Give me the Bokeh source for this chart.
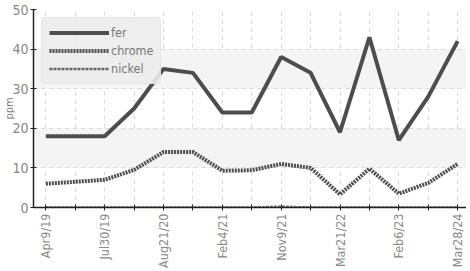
import math
from bokeh.plotting import figure
from bokeh.models import FixedTicker, Legend, LegendItem
from bokeh.embed import file_html
from bokeh.resources import INLINE

x_labels = ["Apr9/19", "", "Jul30/19", "", "Aug21/20", "", "Feb4/21", "",
            "Nov9/21", "", "Mar21/22", "", "Feb6/23", "", "Mar28/24"]
fer = [18, 18, 18, 25, 35, 34, 24, 24, 38, 34, 19, 43, 17, 28, 42]
chrome = [6, 6.5, 7, 9.5, 14, 14, 9.3, 9.4, 11, 10, 3.3, 9.8, 3.5, 6.2, 11]
nickel = [0, 0, 0, 0, 0, 0, 0, 0, 0.2, 0, 0, 0, 0, 0, 0]
xs = list(range(len(fer)))

FONT = "DejaVu Sans Condensed"

p = figure(width=466, height=270, output_backend="svg", toolbar_location=None,
           x_range=(-0.42, 14.3), y_range=(0, 50),
           min_border_left=0, min_border_right=0, min_border_top=9, min_border_bottom=2)
p.outline_line_color = None

r_fer = p.line(xs, fer, line_color="#4d4d4d", line_width=4)
r_chr = p.line(xs, chrome, line_color="#4d4d4d", line_width=4, line_dash="2 1")
r_ni = p.line(xs, nickel, line_color="#666666", line_width=2.5, line_dash="3 1")

p.xaxis.ticker = FixedTicker(ticks=xs)
p.xaxis.major_label_overrides = {i: s for i, s in enumerate(x_labels)}
p.xaxis.major_label_orientation = math.pi / 2
p.yaxis.ticker = FixedTicker(ticks=[0, 10, 20, 30, 40, 50])
p.yaxis.axis_label = "ppm"

for ax in (p.xaxis, p.yaxis):
    ax.axis_line_color = "#222222"
    ax.axis_line_width = 1.5
    ax.major_tick_line_color = "#222222"
    ax.minor_tick_line_color = None
    ax.major_label_text_color = "#888888"
    ax.major_label_text_font = FONT
    ax.major_label_text_font_size = "12.5px"
    ax.axis_label_text_color = "#777777"
    ax.axis_label_text_font = FONT
    ax.axis_label_text_font_size = "11px"
    ax.axis_label_text_font_style = "normal"
    ax.major_label_standoff = 3
p.yaxis.axis_label_standoff = -7
p.yaxis.major_label_standoff = 2
p.xaxis.major_tick_in = 3
p.xaxis.major_tick_out = 3
p.yaxis.major_tick_in = 3
p.yaxis.major_tick_out = 3
p.yaxis.major_label_text_font_size = "14px"

p.xgrid.grid_line_color = "#d8d8d8"
p.xgrid.grid_line_dash = "4 4"
p.ygrid.grid_line_color = "#d8d8d8"
p.ygrid.grid_line_dash = "4 4"
p.ygrid.band_fill_color = "#f4f4f4"
p.ygrid.band_fill_alpha = 1.0

legend = Legend(items=[LegendItem(label="fer", renderers=[r_fer]),
                       LegendItem(label="chrome", renderers=[r_chr]),
                       LegendItem(label="nickel", renderers=[r_ni])],
                location="top_left")
legend.background_fill_color = "#ececec"
legend.background_fill_alpha = 0.9
legend.border_line_color = "#dddddd"
legend.border_radius = 4
legend.label_text_color = "#777777"
legend.label_text_font = FONT
legend.label_text_font_size = "12.5px"
legend.glyph_width = 60
legend.glyph_height = 13
legend.spacing = 3
legend.padding = 7
legend.margin = 8
legend.label_standoff = 2
p.add_layout(legend)

open("out.html", "w").write(file_html(p, INLINE))
